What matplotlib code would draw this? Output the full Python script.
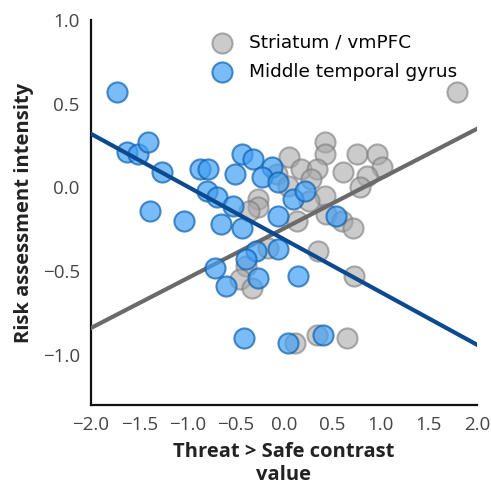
import numpy as np
import matplotlib
matplotlib.use("Agg")
import matplotlib.pyplot as plt

# Striatum / vmPFC (gray)
striatum_x = [1.79, 0.42, 0.42, 0.05, 0.76, 0.96, 1.02, 0.86, 0.61, 0.18, 0.34,
              0.79, 0.43, 0.26, -0.07, 0.04, -0.27, -0.27, -0.36, 0.13, 0.44,
              0.60, 0.71, 0.35, -0.17, -0.39, -0.46, -0.33, 0.73, 0.11, 0.34,
              0.65, 0.28]
striatum_y = [0.57, 0.27, 0.20, 0.18, 0.20, 0.20, 0.12, 0.07, 0.09, 0.11, 0.11,
              0.00, -0.05, -0.08, 0.08, 0.01, -0.07, -0.12, -0.14, -0.20, -0.16,
              -0.20, -0.24, -0.38, -0.36, -0.47, -0.55, -0.60, -0.53, -0.93, -0.88,
              -0.90, 0.05]

# Middle temporal gyrus (blue)
mtg_x = [-1.73, -1.63, -1.51, -1.41, -1.26, -0.87, -0.79, -0.80, -0.69, -0.53,
         -0.44, -0.32, -0.51, -0.12, -0.23, -0.06, -1.39, -1.04, -0.65, -0.43,
         -0.06, 0.09, 0.22, 0.54, -0.29, -0.39, -0.06, -0.72, -0.60, -0.27,
         0.15, -0.41, 0.04, 0.40]
mtg_y = [0.57, 0.21, 0.20, 0.27, 0.09, 0.11, 0.11, -0.02, -0.06, -0.11,
         0.20, 0.17, 0.08, 0.12, 0.06, 0.03, -0.14, -0.20, -0.22, -0.24,
         -0.17, -0.07, -0.02, -0.17, -0.38, -0.43, -0.37, -0.48, -0.59, -0.54,
         -0.53, -0.90, -0.93, -0.88]

# regression fits (intercept, slope)
striatum_fit = (-0.245, 0.2975)
mtg_fit = (-0.31, -0.315)

x_ticks = [-2.0, -1.5, -1.0, -0.5, 0.0, 0.5, 1.0, 1.5, 2.0]
y_ticks = [-1.0, -0.5, 0.0, 0.5, 1.0]

plt.rcParams["font.family"] = ["Open Sans", "DejaVu Sans"]

fig = plt.figure(figsize=(4.91, 4.86), dpi=100)
ax = fig.add_axes([0.1853, 0.1667, 0.7862, 0.7921])

gray_face = "#a9a9a9"
gray_edge = "#7a7a7a"
blue_face = "#42a0f4"
blue_edge = "#0d5fae"

line_x = np.array([-2.0, 2.0])

ax.scatter(striatum_x, striatum_y, s=210, facecolor=gray_face, edgecolor=gray_edge,
           linewidth=1.5, alpha=0.6, label="Striatum / vmPFC", zorder=2)
ax.plot(line_x, striatum_fit[0] + striatum_fit[1] * line_x, color="#6a6a6a",
        linewidth=3, zorder=3)
ax.scatter(mtg_x, mtg_y, s=210, facecolor=blue_face, edgecolor=blue_edge,
           linewidth=1.5, alpha=0.7, label="Middle temporal gyrus", zorder=4)
ax.plot(line_x, mtg_fit[0] + mtg_fit[1] * line_x, color="#0b4a91",
        linewidth=3, zorder=5)

ax.set_xlim(-2.0, 2.0)
ax.set_ylim(-1.3, 1.0)
ax.set_xticks(x_ticks)
ax.set_yticks(y_ticks)
ax.set_xticklabels([f"{v:.1f}".replace("-", "\u2212") for v in x_ticks])
ax.set_yticklabels([f"{v:.1f}".replace("-", "\u2212") for v in y_ticks])
ax.tick_params(length=0, labelsize=13.5, labelcolor="#444444", pad=8)

for side in ["top", "right"]:
    ax.spines[side].set_visible(False)
for side in ["left", "bottom"]:
    ax.spines[side].set_linewidth(1.6)
    ax.spines[side].set_color("#111111")

ax.set_xlabel("Threat > Safe contrast\nvalue", fontsize=14.5, fontweight="bold",
              color="#222222", linespacing=1.2, labelpad=6)
ax.set_ylabel("Risk assessment intensity", fontsize=14.5, fontweight="bold",
              color="#222222", labelpad=6)

leg = ax.legend(loc="upper left", bbox_to_anchor=(0.255, 1.0), frameon=False,
                prop={"family": "DejaVu Sans", "size": 13.3}, handletextpad=0.5,
                labelspacing=0.6, borderaxespad=0.35)

fig.savefig("out.png", dpi=100)
